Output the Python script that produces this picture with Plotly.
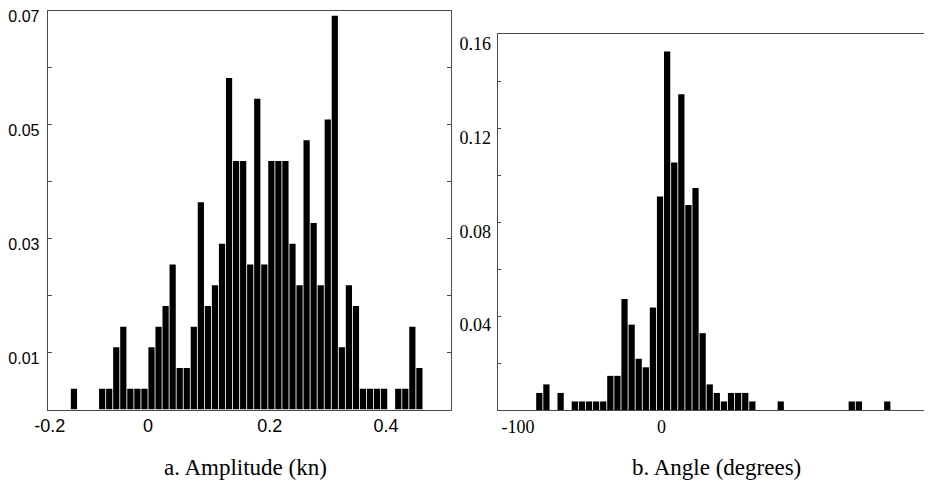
import numpy as np
import plotly.graph_objects as go

# ---------------- data ----------------
N_SAMPLES = 275

# a. Amplitude (kn) histogram
amp_bin_start = -0.1375
amp_bin_width = 0.0125
amp_counts = [1, 0, 0, 0,
              1, 1, 3, 4, 1, 1, 1, 3, 4, 5, 7, 2, 2, 4, 10, 5, 6, 8, 16, 12, 12,
              7, 15, 7, 12, 12, 12, 8, 6, 13, 9, 6, 14, 19, 3, 6, 5, 1, 1, 1, 1,
              0, 1, 1, 4, 2]
# label positions as printed under the panel (hand-placed in the original)
amp_tick_vals = [-0.174, 0.0, 0.216, 0.422]
amp_tick_text = ["-0.2", "0", "0.2", "0.4"]
amp_ytick_vals = [0.01, 0.02, 0.03, 0.04, 0.05, 0.06, 0.07]
amp_ytick_text = ["0.01", "", "0.03", "", "0.05", "", "0.07"]

# b. Angle (degrees) histogram
ang_bin_start = -87.5
ang_bin_width = 5
ang_counts = [2, 3, 0, 2, 0, 1, 1, 1, 1, 1, 4, 4, 13, 10, 6, 5, 12, 25, 42, 29,
              37, 24, 26, 9, 3, 2, 1, 2, 2, 2, 1, 0, 0, 0, 1, 0, 0, 0, 0, 0,
              0, 0, 0, 0, 1, 1, 0, 0, 0, 1]
ang_tick_vals = [-100, 1]
ang_tick_text = ["-100", "0"]
ang_ytick_vals = [0.02, 0.04, 0.06, 0.08, 0.10, 0.12, 0.14, 0.16]
ang_ytick_text = ["", "0.04", "", "0.08", "", "0.12", "", "0.16"]

titles = ["a. Amplitude (kn)", "b. Angle (degrees)"]

# ---------------- derived ----------------
amp_x = amp_bin_start + amp_bin_width * (np.arange(len(amp_counts)) + 0.5)
amp_y = np.array(amp_counts) / N_SAMPLES
ang_x = ang_bin_start + ang_bin_width * (np.arange(len(ang_counts)) + 0.5)
ang_y = np.array(ang_counts) / N_SAMPLES

# page body has an 8px margin; figure fills the rest of the 932x488 window
OFF = 8
W, H = 932 - OFF, 488 - OFF


def px(x):
    return (x - OFF) / W


def py(y):
    return 1 - (y - OFF) / H


LINE = "#4a4a4a"
SANS = "Liberation Sans, Arial, sans-serif"
NARROW = "Liberation Sans Narrow, Arial Narrow, Liberation Sans, sans-serif"
SERIF = "Liberation Serif, Times New Roman, serif"

fig = go.Figure()
fig.add_trace(go.Bar(x=amp_x, y=amp_y, xaxis="x", yaxis="y",
                     marker=dict(color="black", line=dict(width=0)),
                     hoverinfo="x+y"))
fig.add_trace(go.Bar(x=ang_x, y=ang_y, xaxis="x2", yaxis="y2",
                     marker=dict(color="black", line=dict(width=0)),
                     hoverinfo="x+y"))

fig.update_layout(
    width=W, height=H,
    margin=dict(l=0, r=0, t=0, b=0),
    paper_bgcolor="white", plot_bgcolor="white",
    showlegend=False, bargap=0.12,
    xaxis=dict(domain=[px(47.7), px(451.3)], anchor="y",
               range=[-0.1778, 0.5378], showline=True, linecolor=LINE,
               linewidth=1, mirror=True, showgrid=False, zeroline=False,
               ticks="", tickvals=amp_tick_vals, ticktext=amp_tick_text,
               tickfont=dict(family=NARROW, size=18, color="black"),
               automargin=False),
    xaxis3=dict(overlaying="x", anchor="y", side="top", range=[0, 7],
                tickvals=[1, 2, 3, 4, 5, 6], ticks="inside", ticklen=4,
                tickcolor=LINE, showticklabels=False, showline=False,
                showgrid=False, zeroline=False, automargin=False),
    yaxis=dict(domain=[py(409.5), py(10.5)], anchor="x",
               range=[0, 0.07003], showline=True, linecolor=LINE, linewidth=1,
               mirror="ticks", showgrid=False, zeroline=False,
               ticks="inside", ticklen=4, tickcolor=LINE,
               tickvals=amp_ytick_vals, ticktext=amp_ytick_text,
               tickfont=dict(family=SANS, size=16, color="black"),
               ticklabelshift=6, ticklabelstandoff=4, automargin=False),
    xaxis2=dict(domain=[px(497.7), 1.0], anchor="y2",
                range=[-114.3, 191.5], showline=True, linecolor=LINE,
                linewidth=1, mirror=True, showgrid=False, zeroline=False,
                ticks="", tickvals=ang_tick_vals, ticktext=ang_tick_text,
                tickfont=dict(family=SERIF, size=18, color="black"),
                automargin=False),
    yaxis2=dict(domain=[py(410), py(34.3)], anchor="x2",
                range=[0, 0.16003], showline=True, linecolor=LINE, linewidth=1,
                showgrid=False, zeroline=False, ticks="inside", ticklen=3,
                tickcolor=LINE, tickvals=ang_ytick_vals,
                ticktext=ang_ytick_text,
                tickfont=dict(family=SERIF, size=18, color="black"),
                ticklabelshift=9, ticklabelstandoff=2, automargin=False),
)

for tx, cx in zip(titles, [245, 716]):
    fig.add_annotation(text=tx, xref="paper", yref="paper", x=px(cx),
                       y=py(467), xanchor="center", yanchor="middle",
                       showarrow=False,
                       font=dict(family=SERIF, size=23, color="black"))

fig.write_html("out.html")
